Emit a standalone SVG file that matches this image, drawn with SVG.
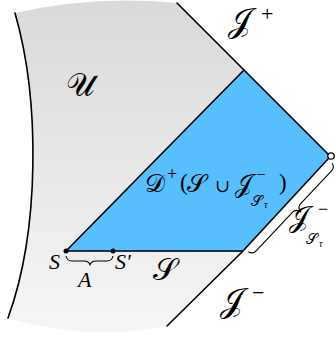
<svg xmlns="http://www.w3.org/2000/svg" width="336" height="339" viewBox="0 0 336 339">
<defs>
<linearGradient id="g" x1="0" y1="0" x2="0" y2="335" gradientUnits="userSpaceOnUse">
<stop offset="0" stop-color="#d9d9d9"/>
<stop offset="1" stop-color="#f6f6f6"/>
</linearGradient>
<style>
.ln{fill:none;stroke:#000;stroke-width:1.6;stroke-linecap:round;stroke-linejoin:round}
.br{fill:none;stroke:#000;stroke-width:1.1;stroke-linejoin:round}
.m{font-family:"Liberation Serif","DejaVu Serif",serif;fill:#000}
.u{font-family:"DejaVu Serif",serif;fill:#000}
.it{font-family:"Liberation Serif",serif;font-style:italic;fill:#000}
</style>
</defs>
<rect width="336" height="339" fill="#fff"/>
<g id="region-U">
<path d="M15,13 Q95,-5 177,3 L330,156 L242,252 L167,326 Q90,342 8,318 C40,230 40,100 15,13 Z" fill="url(#g)"/>
</g>
<g id="region-D">
<path d="M66,251 L244,70 L330,156 L242,252 Z" fill="#58bfff"/>
</g>
<g id="connectors">
<path class="ln" d="M8,318 C40,230 40,100 15,13"/>
<path class="ln" d="M177,3 L330,156"/>
<path class="ln" d="M66,251 L244,70"/>
<path class="ln" d="M66,251 L242,251"/>
<path class="ln" d="M328,159 L242,252 L167,326"/>
<path class="br" d="M66,256 Q67,261 72,261 L84,261 Q89,261 90,265 Q91,261 96,261 L107,261 Q112,261 113,256"/>
<path class="br" transform="translate(332,163) rotate(133.3)" d="M0,0 Q1,-5 6,-5 L51,-5 Q56,-5 57,-11 Q58,-5 63,-5 L116,-5 Q121,-5 122,0"/>
</g>
<g id="point-S"><circle cx="66" cy="251" r="2.5" fill="#000"/><text class="it" x="49" y="269" font-size="22">S</text></g>
<g id="point-S-prime"><circle cx="113" cy="251" r="2.5" fill="#000"/><text class="it" x="115" y="269" font-size="22">S′</text></g>
<g id="label-A"><text class="it" x="78" y="287" font-size="22">A</text></g>
<g id="endpoint"><circle cx="331" cy="156" r="3.2" fill="#fff" stroke="#000" stroke-width="1.3"/></g>
<g id="label-U"><text class="m" x="66" y="96" font-size="32">𝒰</text></g>
<g id="label-Iplus"><text class="m" x="228" y="32" font-size="34">𝒥</text><text class="m" x="261" y="21" font-size="22">+</text></g>
<g id="label-Iminus"><text class="m" x="220" y="312" font-size="34">𝒥</text><text class="m" x="252" y="300" font-size="22">−</text></g>
<g id="label-Sigma"><text class="m" x="153" y="280" font-size="31">𝒮</text></g>
<g id="label-D">
<text class="m" x="145" y="192" font-size="25">𝒟</text>
<text class="m" x="167" y="180" font-size="18">+</text>
<text class="m" x="180" y="190" font-size="23">(</text>
<text class="m" x="187" y="192" font-size="25">𝒮</text>
<text class="u" x="215" y="192" font-size="18">∪</text>
<text class="m" x="235" y="192" font-size="25">𝒥</text>
<text class="m" x="256" y="180" font-size="17">−</text>
<text class="m" x="251" y="206" font-size="15">𝒮</text>
<text class="it" x="264" y="208" font-size="10">τ</text>
<text class="m" x="279" y="190" font-size="23">)</text>
</g>
<g id="label-Ibrace">
<text class="m" x="289" y="227" font-size="29">𝒥</text>
<text class="m" x="318" y="215" font-size="18">−</text>
<text class="m" x="306" y="244" font-size="15">𝒮</text>
<text class="it" x="319" y="247" font-size="10">τ</text>
</g>
</svg>
